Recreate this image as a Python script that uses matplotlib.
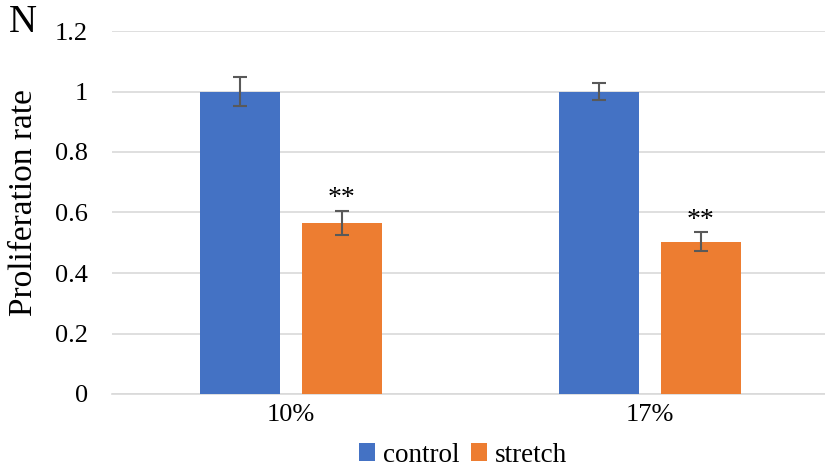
import matplotlib.pyplot as plt
import numpy as np

groups = ["10%", "17%"]
control = [1.0, 1.0]
control_err = [0.047, 0.028]
stretch = [0.565, 0.503]
stretch_err = [0.04, 0.031]
marks = ["**", "**"]

plt.rcParams["font.family"] = ["Liberation Serif", "DejaVu Serif"]

fig = plt.figure(figsize=(8.25, 4.75), dpi=100)
ax = fig.add_axes([111.5 / 825, 1 - 394 / 475, 718 / 825, 363 / 475])

x = np.arange(len(groups))
w = 0.223
off = 0.142
err_kw = dict(ecolor="#595959", elinewidth=1.5, capsize=5, capthick=1.5)
ax.bar(x - off, control, w, yerr=control_err, color="#4472C4", label="control",
       error_kw=err_kw, zorder=3)
ax.bar(x + off, stretch, w, yerr=stretch_err, color="#ED7D31", label="stretch",
       error_kw=err_kw, zorder=3)

for xi, v, e, m in zip(x, stretch, stretch_err, marks):
    ax.text(xi + off, v + e + 0.04, m, ha="center", va="center", fontsize=20)

ax.set_xlim(-0.5, 1.5)
ax.set_ylim(0, 1.2)
ax.set_yticks(np.arange(0, 1.21, 0.2))
ax.set_yticklabels(["0", "0.2", "0.4", "0.6", "0.8", "1", "1.2"])
ax.set_xticks(x)
ax.set_xticklabels(groups)
ax.tick_params(axis="both", length=0, labelsize=19)
ax.tick_params(axis="y", pad=17)
ax.tick_params(axis="x", pad=7)
ax.grid(axis="y", color="#d9d9d9", linewidth=1.2, zorder=0)
for s in ["top", "right", "left"]:
    ax.spines[s].set_visible(False)
ax.spines["bottom"].set_color("#d9d9d9")
ax.spines["bottom"].set_linewidth(1.2)

ax.set_ylabel("Proliferation rate", fontsize=24)
ax.yaxis.set_label_coords(-72 / 718, 0.527)
fig.text(9 / 825, 1 - 22 / 475, "N", fontsize=28, ha="left", va="center")

fig.legend(loc="center", bbox_to_anchor=(463 / 825, 1 - 455 / 475), ncol=2,
           frameon=False, fontsize=19.5, handlelength=0.6, handleheight=0.6,
           handletextpad=0.3, columnspacing=0.4)

fig.savefig("out.png", dpi=100)
